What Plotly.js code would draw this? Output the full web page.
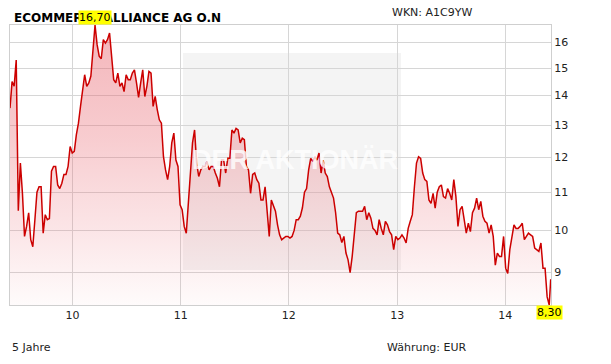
<!DOCTYPE html>
<html><head><meta charset="utf-8">
<script src="https://cdn.plot.ly/plotly-3.0.1.min.js"></script>
<style>html,body{margin:0;padding:0;background:#fff}#chart{width:611px;height:364px}</style>
</head><body><div id="chart"></div>
<script>
const title = "ECOMMERCE ALLIANCE AG O.N";
const wkn = "WKN: A1C9YW";
const periodLabel = "5 Jahre";
const currencyLabel = "Währung: EUR";
const startDate = "2009-06-04";
const endDate = "2014-06-04";
const lastDate = "2014-06-03";
const lastValue = 8.85;
const weeklyValues = [
13.57,14.5,14.33,15.3,10.5,11.83,10.97,9.85,10.1,10.45,
9.77,9.6,10.27,11.0,11.15,11.15,9.93,10.4,10.27,10.3,
11.59,11.73,11.73,11.2,11.1,11.25,11.5,11.5,11.73,12.33,
12.13,12.18,12.7,13.07,13.63,14.2,14.75,14.33,14.45,14.7,
15.57,16.70,15.9,15.45,15.35,16.1,15.96,16.1,16.37,15.31,
14.57,14.45,14.81,14.33,14.45,14.14,14.75,14.57,14.57,14.81,
14.93,14.45,13.94,14.45,14.93,13.97,14.33,14.87,14.81,13.63,
13.97,13.52,13.18,13.07,12.02,11.63,11.35,11.73,12.44,12.75,
11.92,11.73,10.66,10.53,10.1,9.93,10.8,11.63,12.44,12.85,
11.83,11.44,11.63,11.73,11.73,11.88,11.63,11.73,11.73,11.54,
11.39,11.15,11.92,11.92,11.54,11.97,11.97,12.85,12.75,12.9,
12.85,12.44,12.59,12.54,11.73,11.63,10.97,11.5,11.54,11.35,
11.25,10.79,10.79,11.15,10.44,9.85,10.79,10.66,10.49,10.14,
9.89,9.77,9.81,9.85,9.85,9.81,9.85,10.0,10.27,10.27,
10.36,10.58,11.0,11.1,11.63,11.97,11.88,12.02,11.92,12.13,
11.54,11.92,11.54,11.44,11.15,10.97,10.84,10.45,9.93,9.89,
9.7,9.85,9.45,9.29,9.0,9.37,10.0,10.45,10.49,10.49,
10.49,10.62,10.27,10.45,10.31,10.05,10.0,9.89,10.27,10.05,
9.89,10.23,10.14,9.97,9.89,9.53,9.85,9.77,9.81,9.89,
9.81,9.69,10.05,10.23,10.4,11.15,11.83,12.02,11.97,11.54,
11.35,11.3,10.79,10.7,10.97,10.57,11.0,11.15,11.2,10.88,
10.84,11.1,10.97,10.79,11.35,10.88,10.1,10.53,10.62,10.27,
9.93,10.18,9.97,10.45,10.57,10.84,10.53,10.75,10.36,10.23,
10.18,9.93,10.14,9.85,9.17,9.45,9.37,9.37,9.85,9.1,
8.98,9.53,9.85,10.14,10.05,10.05,10.1,10.18,9.77,9.85,
9.93,9.89,9.85,9.57,9.53,9.49,9.69,9.1,9.1,8.47,
8.30
];
const yTickVals = [9,10,11,12,13,14,15,16];
const yTickText = ["9","10","11","12","13","14","15","16"];
const xTickVals = ["2010-01-01","2011-01-01","2012-01-01","2013-01-01","2014-01-01"];
const xTickText = ["10","11","12","13","14"];

const t0 = Date.parse(startDate + "T00:00:00Z");
const dates = weeklyValues.map((v,i)=> new Date(t0 + i*7*864e5).toISOString().slice(0,10));
dates.push(lastDate);
const values = weeklyValues.concat([lastValue]);

const maxV = Math.max(...values), minV = Math.min(...values);
const maxI = values.indexOf(maxV), minI = values.indexOf(minV);
const fmt = v => v.toFixed(2).replace(".", ",");

const font = "DejaVu Sans, Verdana, sans-serif";
const trace = {
  x: dates, y: values, type: "scatter", mode: "lines",
  line: {color: "#cc0000", width: 1.5},
  fill: "tozeroy",
  fillgradient: {type: "vertical", start: minV, stop: maxV,
    colorscale: [[0, "rgba(235,120,128,0.03)"], [0.25, "rgba(235,110,120,0.17)"],
                 [0.6, "rgba(232,100,110,0.33)"], [1, "rgba(230,90,100,0.45)"]]},
  hoverinfo: "skip"
};
const layout = {
  width: 611, height: 364,
  margin: {l: 10, r: 60, t: 25, b: 59},
  paper_bgcolor: "#ffffff", plot_bgcolor: "#ffffff",
  showlegend: false,
  font: {family: font, size: 11, color: "#222"},
  xaxis: {
    type: "date", range: [startDate, endDate],
    tickvals: xTickVals, ticktext: xTickText,
    showgrid: true, gridcolor: "#d6d6d6", gridwidth: 1,
    showline: true, linecolor: "#cfcfcf", linewidth: 1, mirror: true,
    ticks: "", zeroline: false, tickfont: {family: font, size: 11, color: "#222"}
  },
  yaxis: {
    type: "log", side: "right",
    range: [Math.log10(minV), Math.log10(maxV)],
    tickvals: yTickVals, ticktext: yTickText,
    showgrid: true, gridcolor: "#d6d6d6", gridwidth: 1,
    showline: true, linecolor: "#cfcfcf", linewidth: 1, mirror: true,
    ticks: "", zeroline: false, tickfont: {family: font, size: 11, color: "#222"}
  },
  shapes: [{
    type: "rect", layer: "below", xref: "paper", yref: "paper",
    x0: (183-10)/541, x1: (401-10)/541, y0: (305-270)/280, y1: (305-53)/280,
    fillcolor: "#f4f4f4", line: {width: 0}
  }],
  annotations: [
    {xref: "paper", yref: "paper", x: (295-10)/541, y: (305-160)/280, text: "<b>DER AKTIONÄR</b>",
     showarrow: false, font: {family: "Liberation Sans, Arial, sans-serif", size: 27, color: "rgba(255,255,255,0.8)"}},
    {xref: "paper", yref: "paper", x: (12-10)/541, y: (305-18)/280, xanchor: "left", yanchor: "middle",
     text: "<b>" + title + "</b>", showarrow: false, font: {family: font, size: 12, color: "#000"}},
    {xref: "paper", yref: "paper", x: (390-10)/541, y: (305-13)/280, xanchor: "left", yanchor: "middle",
     text: wkn, showarrow: false, font: {family: font, size: 11, color: "#222"}},
    {xref: "paper", yref: "paper", x: 0, y: (305-347)/280, xanchor: "left", yanchor: "middle",
     text: periodLabel, showarrow: false, font: {family: font, size: 11, color: "#222"}},
    {xref: "paper", yref: "paper", x: (385-10)/541, y: (305-347)/280, xanchor: "left", yanchor: "middle",
     text: currencyLabel, showarrow: false, font: {family: font, size: 11, color: "#222"}},
    {x: dates[maxI], y: Math.log10(maxV), xanchor: "center", yanchor: "bottom", text: fmt(maxV),
     showarrow: false, bgcolor: "#ffff00", borderpad: 0, font: {family: font, size: 11, color: "#000"}},
    {x: dates[minI], y: Math.log10(minV), xanchor: "center", yanchor: "top", text: fmt(minV),
     showarrow: false, bgcolor: "#ffff00", borderpad: 0, font: {family: font, size: 11, color: "#000"}}
  ]
};
Plotly.newPlot("chart", [trace], layout, {displayModeBar: false, staticPlot: true});
</script></body></html>
